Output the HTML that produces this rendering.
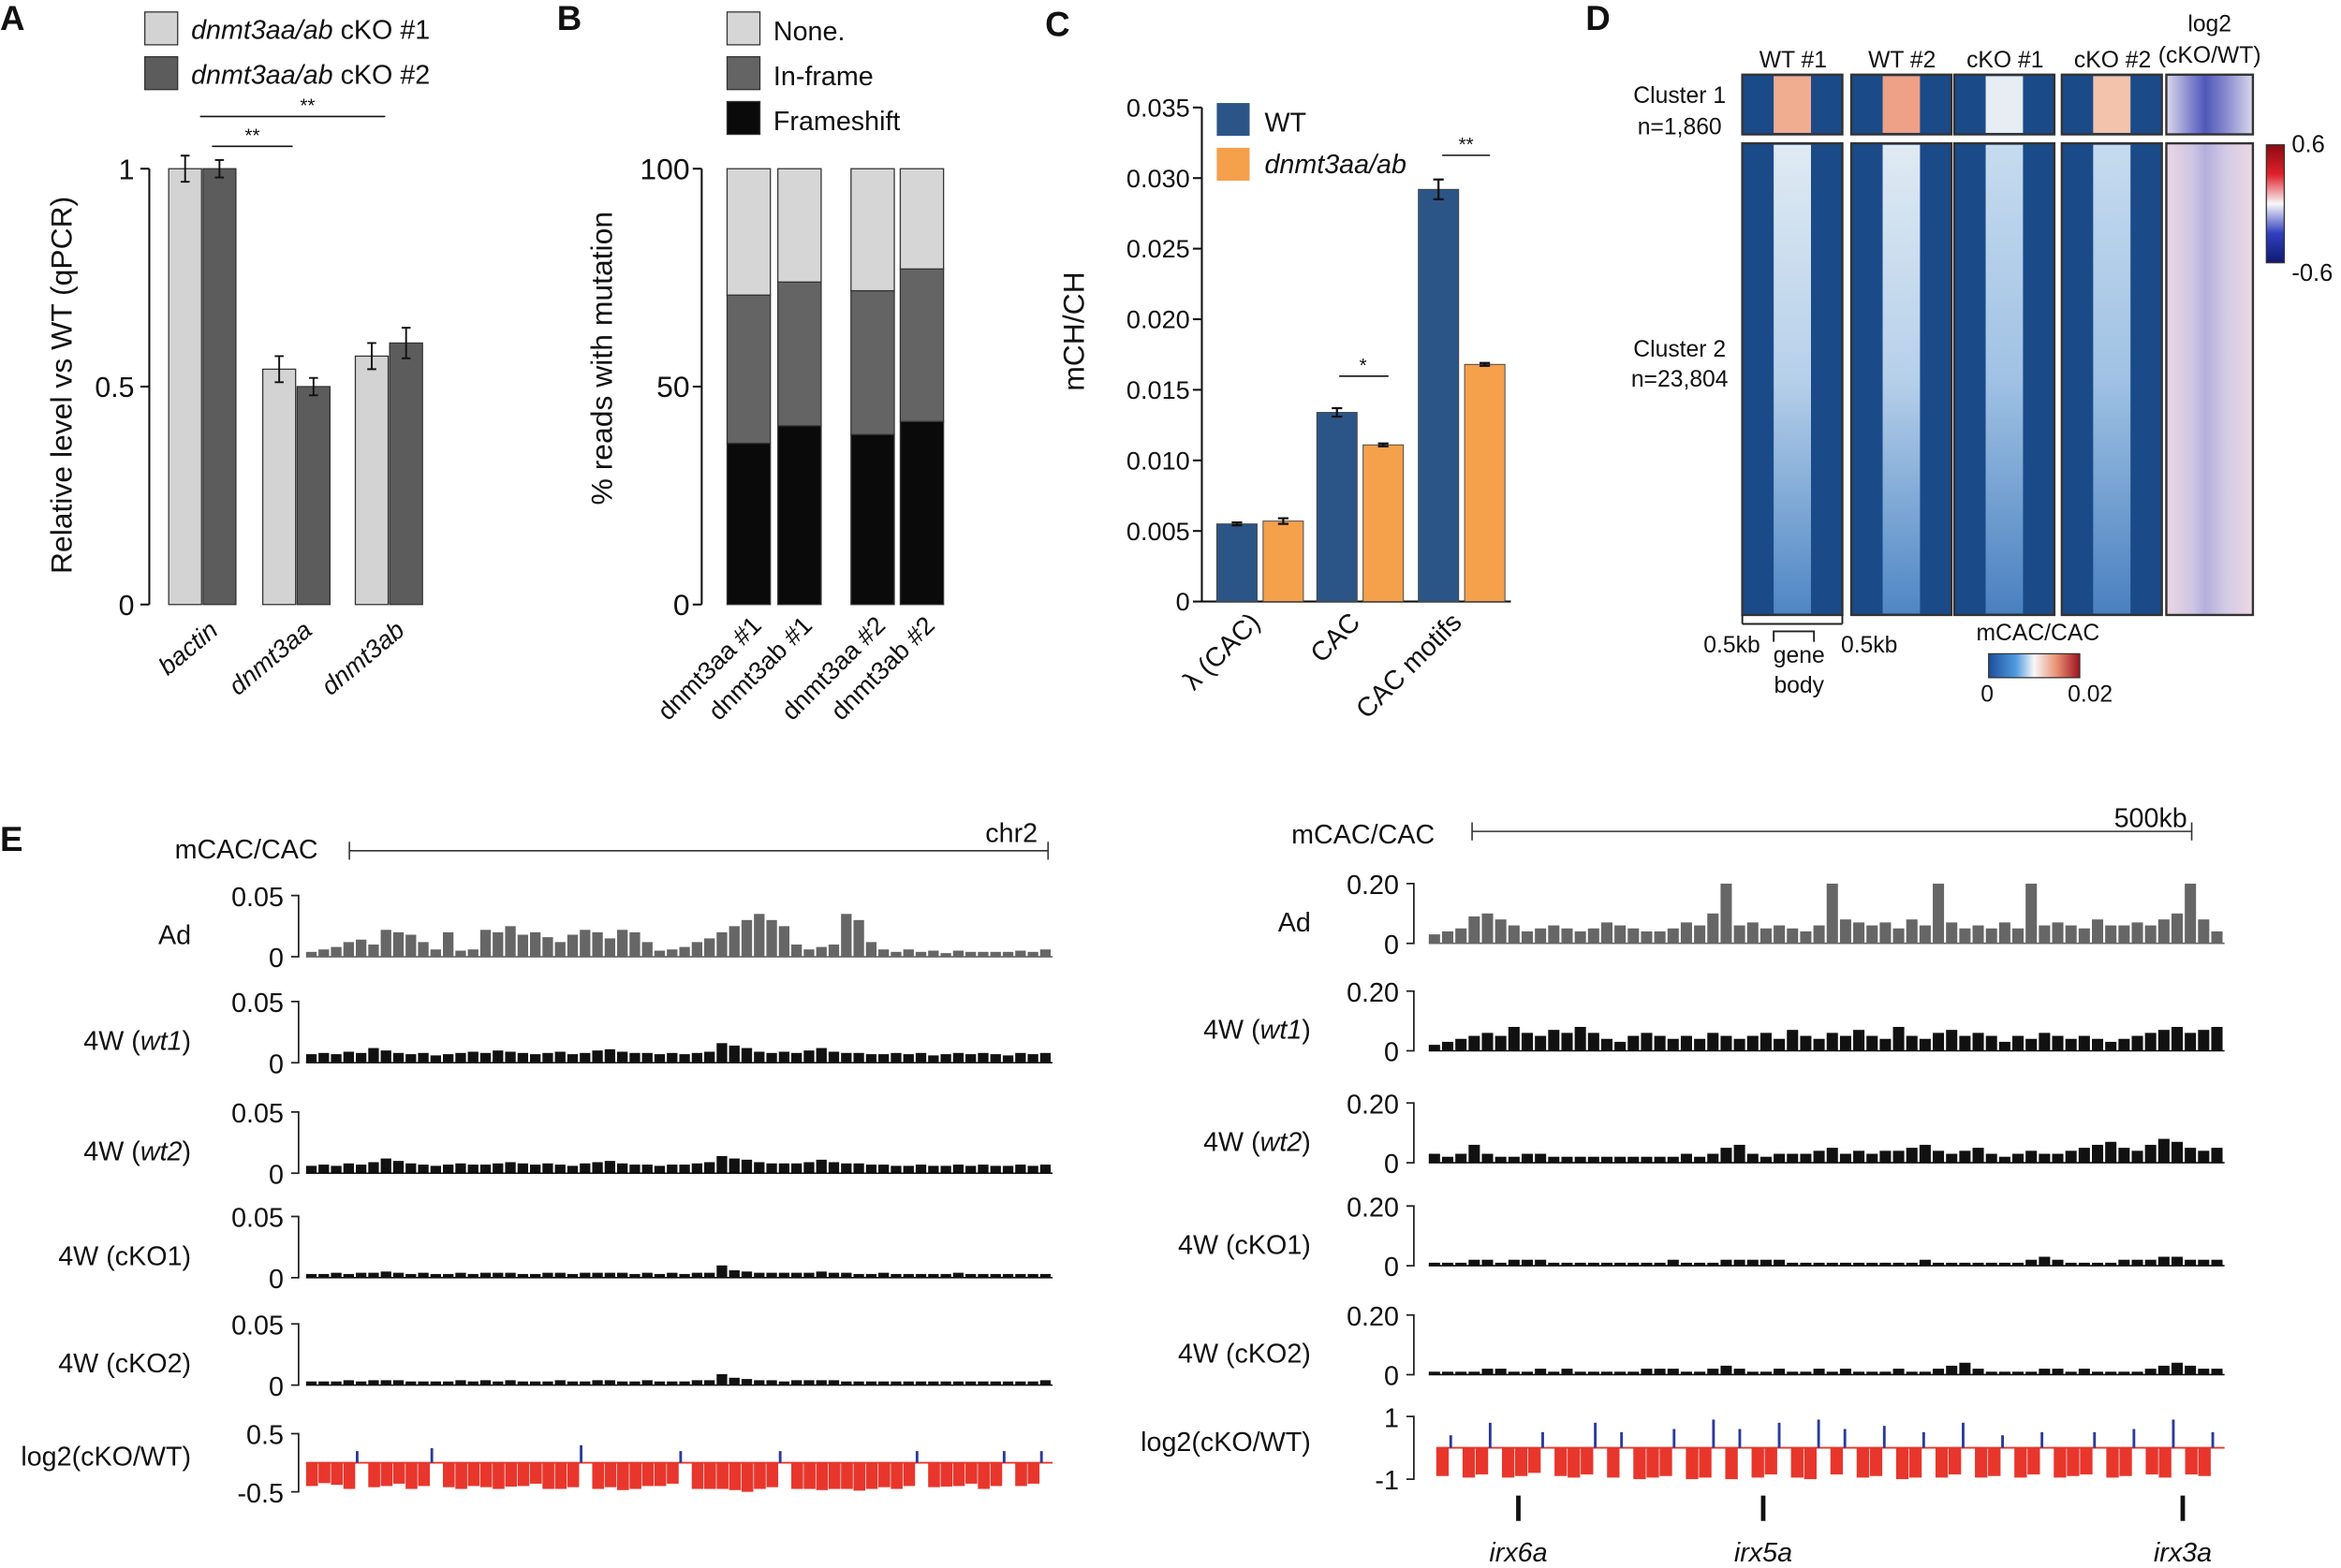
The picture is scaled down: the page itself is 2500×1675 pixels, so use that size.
<!DOCTYPE html>
<html><head><meta charset="utf-8"><style>
html,body{margin:0;padding:0;background:#fff}
svg{display:block;font-family:"Liberation Sans",Arial,sans-serif}
</style></head><body>
<svg id="fig" width="2500" height="1675" viewBox="0 0 1568 1050.5" xmlns="http://www.w3.org/2000/svg">
<defs>
<linearGradient id="c2strip" x1="0" y1="0" x2="0" y2="1"><stop offset="0" stop-color="#dfeaf3"/><stop offset="0.5" stop-color="#b6d0ea"/><stop offset="1" stop-color="#4f86c4"/></linearGradient>
<linearGradient id="c2stripk" x1="0" y1="0" x2="0" y2="1"><stop offset="0" stop-color="#c6dbef"/><stop offset="0.5" stop-color="#a0c2e4"/><stop offset="1" stop-color="#4a80c0"/></linearGradient>
<linearGradient id="cbarH" x1="0" y1="0" x2="1" y2="0"><stop offset="0" stop-color="#1d4f9a"/><stop offset="0.3" stop-color="#4f9be0"/><stop offset="0.5" stop-color="#f8f8f8"/><stop offset="0.75" stop-color="#e89070"/><stop offset="1" stop-color="#a01020"/></linearGradient>
<linearGradient id="cbarV" x1="0" y1="0" x2="0" y2="1"><stop offset="0" stop-color="#8a0a10"/><stop offset="0.25" stop-color="#e0202a"/><stop offset="0.5" stop-color="#f8f8f8"/><stop offset="0.75" stop-color="#3040c0"/><stop offset="1" stop-color="#101a70"/></linearGradient>
<linearGradient id="l2col" x1="0" y1="0" x2="1" y2="0"><stop offset="0" stop-color="#ead6e2"/><stop offset="0.3" stop-color="#cfc6e4"/><stop offset="0.45" stop-color="#b4b0dc"/><stop offset="0.7" stop-color="#d4cbe6"/><stop offset="1" stop-color="#ecd8e2"/></linearGradient>
<linearGradient id="l2col1" x1="0" y1="0" x2="1" y2="0"><stop offset="0" stop-color="#dcd8ec"/><stop offset="0.3" stop-color="#7c80cc"/><stop offset="0.45" stop-color="#5058b8"/><stop offset="0.7" stop-color="#8a8cd0"/><stop offset="1" stop-color="#dad8ec"/></linearGradient>
</defs>
<g id="root"></g>
</svg>
<script>
// ---------- Panel A data ----------
const aCats = ['bactin','dnmt3aa','dnmt3ab'];
const aKO1 = [1.0, 0.54, 0.57];
const aKO2 = [1.0, 0.50, 0.60];
const aErr1 = [0.03, 0.03, 0.03];
const aErr2 = [0.02, 0.02, 0.035];
const aTicks = [0, 0.5, 1];
const aTickLabels = ['0','0.5','1'];
// ---------- Panel B data ----------
const bCats = ['dnmt3aa #1','dnmt3ab #1','dnmt3aa #2','dnmt3ab #2'];
const bFrameshift = [37, 41, 39, 42];
const bInframe = [34, 33, 33, 35];
const bNone = [29, 26, 28, 23];
const bTicks = [0, 50, 100];
// ---------- Panel C data ----------
const cCats = ['λ (CAC)','CAC','CAC motifs'];
const cWT = [0.0055, 0.0134, 0.0292];
const cMut = [0.0057, 0.0111, 0.0168];
const cErrWT = [0.0001, 0.0003, 0.0007];
const cErrMut = [0.0002, 0.0001, 0.0001];
const cTicks = [0, 0.005, 0.010, 0.015, 0.020, 0.025, 0.030, 0.035];
const cTickLabels = ['0','0.005','0.010','0.015','0.020','0.025','0.030','0.035'];
// ---------- Panel E data (binned signal) ----------
const eLeftAd = [0.004,0.006,0.008,0.012,0.014,0.010,0.022,0.02,0.018,0.012,0.006,0.02,0.005,0.006,0.022,0.02,0.025,0.018,0.02,0.016,0.012,0.018,0.022,0.02,0.015,0.022,0.02,0.012,0.005,0.006,0.008,0.012,0.015,0.02,0.025,0.03,0.035,0.03,0.025,0.01,0.006,0.008,0.01,0.035,0.03,0.012,0.006,0.004,0.006,0.004,0.005,0.003,0.005,0.004,0.004,0.004,0.004,0.005,0.004,0.006];
const eLeftWt1 = [0.007,0.008,0.007,0.009,0.008,0.012,0.01,0.008,0.007,0.008,0.006,0.007,0.008,0.009,0.008,0.01,0.009,0.008,0.007,0.008,0.009,0.007,0.008,0.01,0.011,0.009,0.008,0.008,0.007,0.008,0.007,0.008,0.009,0.016,0.014,0.012,0.009,0.008,0.009,0.008,0.01,0.012,0.009,0.008,0.008,0.007,0.007,0.008,0.007,0.008,0.006,0.007,0.008,0.007,0.008,0.007,0.006,0.008,0.007,0.008];
const eLeftWt2 = [0.006,0.007,0.006,0.008,0.007,0.009,0.012,0.01,0.008,0.007,0.006,0.007,0.008,0.007,0.007,0.008,0.009,0.008,0.007,0.008,0.007,0.006,0.008,0.009,0.01,0.008,0.007,0.007,0.006,0.007,0.007,0.008,0.009,0.014,0.012,0.011,0.009,0.008,0.008,0.008,0.009,0.011,0.009,0.008,0.008,0.007,0.007,0.006,0.006,0.007,0.006,0.006,0.007,0.006,0.007,0.006,0.006,0.007,0.006,0.007];
const eLeftKO1 = [0.003,0.003,0.004,0.003,0.004,0.004,0.005,0.004,0.003,0.004,0.003,0.003,0.004,0.003,0.004,0.004,0.004,0.003,0.003,0.004,0.004,0.003,0.004,0.004,0.004,0.004,0.003,0.004,0.003,0.004,0.003,0.004,0.004,0.01,0.006,0.005,0.004,0.004,0.004,0.004,0.004,0.005,0.004,0.004,0.003,0.003,0.004,0.003,0.003,0.003,0.003,0.003,0.004,0.003,0.003,0.003,0.003,0.003,0.003,0.003];
const eLeftKO2 = [0.003,0.003,0.003,0.004,0.003,0.004,0.004,0.004,0.003,0.003,0.003,0.003,0.004,0.003,0.004,0.003,0.004,0.003,0.003,0.003,0.004,0.003,0.003,0.004,0.004,0.003,0.003,0.004,0.003,0.003,0.003,0.004,0.004,0.009,0.006,0.005,0.004,0.004,0.003,0.004,0.004,0.004,0.004,0.003,0.003,0.003,0.003,0.003,0.003,0.003,0.003,0.003,0.003,0.003,0.003,0.003,0.003,0.003,0.003,0.004];
const eLeftLog2 = [-0.4,-0.35,-0.38,-0.45,0.2,-0.42,-0.4,-0.36,-0.45,-0.4,0.25,-0.42,-0.45,-0.4,-0.42,-0.45,-0.41,-0.4,-0.36,-0.45,-0.45,-0.42,0.3,-0.45,-0.42,-0.47,-0.45,-0.4,-0.4,-0.36,0.2,-0.45,-0.45,-0.45,-0.47,-0.5,-0.45,-0.42,0.2,-0.45,-0.45,-0.47,-0.45,-0.45,-0.48,-0.45,-0.42,-0.45,-0.4,0.2,-0.42,-0.41,-0.4,-0.36,-0.45,-0.4,0.2,-0.4,-0.36,0.2];
const eRightAd = [0.03,0.04,0.05,0.09,0.1,0.08,0.06,0.04,0.05,0.06,0.05,0.04,0.05,0.07,0.06,0.05,0.04,0.04,0.05,0.07,0.06,0.1,0.2,0.06,0.07,0.05,0.06,0.05,0.04,0.06,0.2,0.08,0.07,0.06,0.07,0.05,0.08,0.06,0.2,0.07,0.05,0.06,0.05,0.07,0.05,0.2,0.06,0.07,0.06,0.05,0.08,0.06,0.06,0.07,0.06,0.08,0.1,0.2,0.08,0.04];
const eRightWt1 = [0.02,0.03,0.04,0.05,0.06,0.05,0.08,0.06,0.05,0.07,0.06,0.08,0.06,0.04,0.03,0.05,0.06,0.05,0.04,0.05,0.04,0.06,0.05,0.04,0.05,0.06,0.04,0.07,0.05,0.04,0.06,0.05,0.07,0.05,0.04,0.08,0.05,0.04,0.06,0.07,0.05,0.06,0.05,0.03,0.05,0.04,0.06,0.05,0.04,0.05,0.04,0.03,0.04,0.05,0.06,0.07,0.08,0.06,0.07,0.08];
const eRightWt2 = [0.03,0.02,0.03,0.06,0.03,0.02,0.02,0.03,0.03,0.02,0.02,0.02,0.02,0.02,0.02,0.02,0.02,0.02,0.02,0.03,0.02,0.03,0.05,0.06,0.03,0.02,0.03,0.03,0.03,0.04,0.05,0.03,0.04,0.03,0.04,0.04,0.05,0.06,0.04,0.03,0.04,0.05,0.03,0.02,0.03,0.04,0.03,0.03,0.04,0.05,0.06,0.07,0.05,0.04,0.06,0.08,0.07,0.05,0.04,0.05];
const eRightKO1 = [0.01,0.01,0.01,0.02,0.02,0.01,0.02,0.02,0.02,0.01,0.01,0.01,0.01,0.01,0.01,0.01,0.01,0.01,0.02,0.01,0.01,0.01,0.02,0.02,0.02,0.02,0.02,0.01,0.01,0.01,0.01,0.01,0.01,0.01,0.01,0.01,0.01,0.02,0.01,0.01,0.01,0.01,0.01,0.01,0.01,0.02,0.03,0.02,0.01,0.01,0.01,0.01,0.02,0.02,0.02,0.03,0.03,0.02,0.02,0.02];
const eRightKO2 = [0.01,0.01,0.01,0.01,0.02,0.02,0.01,0.01,0.02,0.01,0.02,0.01,0.01,0.01,0.01,0.01,0.02,0.02,0.02,0.01,0.01,0.02,0.03,0.02,0.01,0.01,0.02,0.01,0.01,0.02,0.01,0.02,0.01,0.01,0.01,0.02,0.01,0.01,0.02,0.03,0.04,0.02,0.01,0.01,0.01,0.01,0.02,0.02,0.01,0.02,0.01,0.01,0.01,0.01,0.02,0.03,0.04,0.03,0.02,0.02];
const eRightLog2 = [-0.9,0.4,-0.95,-0.85,0.8,-0.95,-0.9,-0.8,0.5,-0.9,-0.95,-0.85,0.8,-0.95,0.5,-1.0,-0.95,-0.9,0.6,-1.0,-0.95,0.9,-1.0,0.6,-0.95,-0.85,0.8,-0.95,-1.0,0.9,-0.85,0.6,-0.95,-0.9,0.7,-1.0,-0.95,0.5,-0.95,-0.85,0.8,-0.95,-0.9,0.4,-0.95,-0.85,0.5,-0.95,-0.9,-0.85,0.5,-0.95,-0.9,0.6,-0.85,-0.95,0.9,-0.85,-0.9,0.5];

const NS='http://www.w3.org/2000/svg';
const root=document.getElementById('root');
function mk(tag,attrs,parent){const e=document.createElementNS(NS,tag);for(const k in attrs)e.setAttribute(k,attrs[k]);(parent||root).appendChild(e);return e;}
function txt(s,x,y,size,anchor,extra,parent){const t=mk('text',Object.assign({x:x,y:y,'font-size':size,'text-anchor':anchor||'start',fill:'#111'},extra||{}),parent);t.textContent=s;return t;}

['A','B','C','D','E'].forEach((L,i)=>{const p=[[0,20],[373,20],[700,24],[1062,20],[0,570]][i];const t=txt(L,p[0],p[1],23,'start',{'font-weight':'bold'});

});

// ================= Panel A =================
const gA=mk('g',{});


const aY=v=>405-292*v;
const aX0=[113,176,238];
mk('line',{x1:100,y1:aY(1),x2:100,y2:aY(0),stroke:'#111','stroke-width':1.3},gA);
aTicks.forEach((v,i)=>{mk('line',{x1:94,x2:100,y1:aY(v),y2:aY(v),stroke:'#111','stroke-width':1.3},gA);
const t=txt(aTickLabels[i],90,aY(v)+7,19,'end',{},gA);

});
aCats.forEach((c,i)=>{
 [[aKO1,aErr1,'#d3d3d3',0],[aKO2,aErr2,'#5c5c5c',23]].forEach(s=>{
  const x=aX0[i]+s[3],v=s[0][i],e=s[1][i];
  const r=mk('rect',{x:x,y:aY(v),width:22,height:aY(0)-aY(v),fill:s[2],stroke:'#333','stroke-width':0.8},gA);
  
  
  mk('path',{d:`M${x+11} ${aY(v+e)}V${aY(v-e)}M${x+8} ${aY(v+e)}h6M${x+8} ${aY(v-e)}h6`,stroke:'#111','stroke-width':1.2,fill:'none'},gA);
 });
 const t=txt(c,aX0[i]+34,424,17,'end',{'font-style':'italic',transform:`rotate(-40 ${aX0[i]+34} 424)`},gA);
 
 
});
const aYl=txt('Relative level vs WT (qPCR)',48,258,20,'middle',{transform:'rotate(-90 48 258)'},gA);


mk('line',{x1:142,x2:196,y1:98,y2:98,stroke:'#111','stroke-width':1},gA);txt('**',169,95,13,'middle',{},gA);
mk('line',{x1:134,x2:258,y1:78,y2:78,stroke:'#111','stroke-width':1},gA);txt('**',206,75,13,'middle',{},gA);
[['#d3d3d3',8,'cKO #1'],['#5c5c5c',38,'cKO #2']].forEach(l=>{mk('rect',{x:97,y:l[1],width:22,height:22,fill:l[0],stroke:'#333','stroke-width':0.8},gA);
 const t=mk('text',{x:128,y:l[1]+18,'font-size':18,fill:'#111'},gA);t.innerHTML='<tspan font-style="italic">dnmt3aa/ab</tspan> '+l[2];
 
 });

// ================= Panel B =================
const gB=mk('g',{});


const bY=v=>405-2.92*v;
const bX=[487,521,570,603];
mk('line',{x1:470,y1:bY(100),x2:470,y2:bY(0),stroke:'#111','stroke-width':1.3},gB);
bTicks.forEach(v=>{mk('line',{x1:464,x2:470,y1:bY(v),y2:bY(v),stroke:'#111','stroke-width':1.3},gB);
const t=txt(String(v),462,bY(v)+7,20,'end',{},gB);

});
bCats.forEach((c,i)=>{let base=0;[[bFrameshift,'#0a0a0a'],[bInframe,'#646464'],[bNone,'#d6d6d6']].forEach(s=>{const v=s[0][i];
 const r=mk('rect',{x:bX[i],y:bY(base+v),width:29,height:bY(base)-bY(base+v),fill:s[1],stroke:'#333','stroke-width':0.8},gB);
 
 base+=v;});
 const t=txt(c,bX[i]+24,420,17,'end',{transform:`rotate(-45 ${bX[i]+24} 420)`},gB);
 
 });
const bYl=txt('% reads with mutation',410,240,20,'middle',{transform:'rotate(-90 410 240)'},gB);


[['#d6d6d6',8,'None.'],['#646464',38,'In-frame'],['#0a0a0a',68,'Frameshift']].forEach(l=>{mk('rect',{x:487,y:l[1],width:22,height:22,fill:l[0],stroke:'#333','stroke-width':0.8},gB);
 const t=txt(l[2],518,l[1]+19,18,'start',{},gB);
 
 });

// ================= Panel C =================
const gC=mk('g',{});


const cY=v=>403-v/0.035*331;
const cX=[815,882,950];
mk('line',{x1:805,y1:cY(0.035),x2:805,y2:cY(0),stroke:'#111','stroke-width':1.3},gC);
mk('line',{x1:805,y1:cY(0),x2:1012,y2:cY(0),stroke:'#111','stroke-width':1.3},gC);
cTicks.forEach((v,i)=>{mk('line',{x1:799,x2:805,y1:cY(v),y2:cY(v),stroke:'#111','stroke-width':1.3},gC);
const t=txt(cTickLabels[i],797,cY(v)+6,17,'end',{},gC);

});
cCats.forEach((c,i)=>{[[cWT,cErrWT,'#2c5587',0],[cMut,cErrMut,'#f5a04b',31]].forEach(s=>{const x=cX[i]+s[3],v=s[0][i],e=s[1][i];
 const r=mk('rect',{x:x,y:cY(v),width:27,height:cY(0)-cY(v),fill:s[2],stroke:'#444','stroke-width':0.6},gC);
 
 
 mk('path',{d:`M${x+13.5} ${cY(v+e)}V${cY(v-e)}M${x+10} ${cY(v+e)}h7M${x+10} ${cY(v-e)}h7`,stroke:'#111','stroke-width':1.4,fill:'none'},gC);});
 const t=txt(c,cX[i]+30,418,18,'end',{transform:`rotate(-45 ${cX[i]+30} 418)`},gC);
 
 });
const cYl=txt('mCH/CH',726,222,20,'middle',{transform:'rotate(-90 726 222)'},gC);


mk('line',{x1:897,x2:930,y1:252,y2:252,stroke:'#111','stroke-width':1},gC);txt('*',913,249,13,'middle',{},gC);
mk('line',{x1:966,x2:998,y1:104,y2:104,stroke:'#111','stroke-width':1},gC);txt('**',982,101,13,'middle',{},gC);
mk('rect',{x:815,y:69,width:22,height:22,fill:'#2c5587'},gC);
const cl1=txt('WT',847,88,18,'start',{},gC);


mk('rect',{x:815,y:99,width:22,height:22,fill:'#f5a04b'},gC);
const cl2=txt('dnmt3aa/ab',847,116,18,'start',{'font-style':'italic'},gC);



// ================= Panel D =================
const gD=mk('g',{});


const dCols=[[1167,'WT #1','#f0ad90'],[1240,'WT #2','#eea186'],[1309,'cKO #1','#e6eef4'],[1381,'cKO #2','#f3c4ab']];
dCols.forEach(c=>{const x=c[0];
 const h=txt(c[1],x+34,45,15.5,'middle',{},gD);
 
 
 [[50,40,c[2]],[96,316,(c[1].startsWith('cKO')?'url(#c2stripk)':'url(#c2strip)')]].forEach(b=>{
  mk('rect',{x:x,y:b[0],width:67,height:b[1],fill:'#1b4a88',stroke:'#333','stroke-width':1.5},gD);
  const s=mk('rect',{x:x+21,y:b[0]+1,width:25,height:b[1]-2,fill:b[2]},gD);
  
  });});
mk('rect',{x:1451,y:50,width:58,height:40,fill:'url(#l2col1)',stroke:'#333','stroke-width':1.5},gD);
mk('rect',{x:1451,y:96,width:58,height:316,fill:'url(#l2col)',stroke:'#333','stroke-width':1.5},gD);
txt('log2',1480,21,15.5,'middle',{},gD);txt('(cKO/WT)',1480,42,15.5,'middle',{},gD);
txt('Cluster 1',1125,69,15.5,'middle',{},gD);txt('n=1,860',1125,90,15.5,'middle',{},gD);
txt('Cluster 2',1125,239,15.5,'middle',{},gD);txt('n=23,804',1125,259,15.5,'middle',{},gD);
const cbv=mk('rect',{x:1518,y:97,width:12,height:79,fill:'url(#cbarV)',stroke:'#333','stroke-width':0.8},gD);


txt('0.6',1535,102,16,'start',{},gD);txt('-0.6',1535,188,16,'start',{},gD);
mk('path',{d:'M1167 418V412M1167 418H1234M1234 418V412M1188 430V423H1215V430',stroke:'#222','stroke-width':1.2,fill:'none'},gD);
txt('0.5kb',1160,437,15.5,'middle',{},gD);txt('0.5kb',1252,437,15.5,'middle',{},gD);
txt('gene',1205,444,15.5,'middle',{},gD);txt('body',1205,464,15.5,'middle',{},gD);
txt('mCAC/CAC',1365,429,15.5,'middle',{},gD);
const cbh=mk('rect',{x:1332,y:438,width:61,height:16,fill:'url(#cbarH)',stroke:'#333','stroke-width':0.8},gD);


txt('0',1331,470,15.5,'middle',{},gD);txt('0.02',1400,470,15.5,'middle',{},gD);

// ================= Panel E =================
function track(g,data,opts){
 const n=data.length,step=(opts.x1-opts.x0)/n;
 const yv=v=>opts.base-(v/opts.max)*opts.h;
 mk('path',{d:`M${opts.ax-5} ${opts.base-opts.h}H${opts.ax}V${opts.base}H${opts.ax-5}`,stroke:'#222','stroke-width':1.1,fill:'none'},g);
 txt(opts.maxLabel,opts.ax-10,opts.base-opts.h+7,18,'end',{},g);
 txt('0',opts.ax-10,opts.base+7,18,'end',{},g);
 mk('line',{x1:opts.x0,x2:opts.x1,y1:opts.base,y2:opts.base,stroke:opts.color,'stroke-width':1},g);
 data.forEach((v,i)=>{const b=mk('rect',{x:opts.x0+i*step,y:yv(v),width:step*0.85,height:opts.base-yv(v),fill:opts.color},g);
  
  });
 const l=mk('text',{x:opts.lx,y:opts.base-opts.h/2+12,'font-size':18,'text-anchor':'end',fill:'#111'},g);l.innerHTML=opts.label;
 
 
}
function log2track(g,data,opts){
 const n=data.length,step=(opts.x1-opts.x0)/n;
 const yv=v=>opts.zero-v*opts.k;
 mk('path',{d:`M${opts.ax-5} ${yv(opts.tmax)}H${opts.ax}V${yv(-opts.tmax)}H${opts.ax-5}`,stroke:'#222','stroke-width':1.1,fill:'none'},g);
 txt(opts.l1,opts.ax-10,yv(opts.tmax)+7,18,'end',{},g);txt(opts.l2,opts.ax-10,yv(-opts.tmax)+7,18,'end',{},g);
 mk('line',{x1:opts.x0,x2:opts.x1,y1:opts.zero,y2:opts.zero,stroke:'#e8362c','stroke-width':1.2},g);
 data.forEach((v,i)=>{const y=Math.min(yv(v),opts.zero),h=Math.abs(yv(v)-opts.zero);
  const b=mk('rect',{x:opts.x0+i*step,y:y,width:v<0?step*0.95:1.8,height:h,fill:v<0?'#e8362c':'#2a3a9c'},g);
  
  });
 const l=txt('log2(cKO/WT)',opts.lx,opts.zero+2,18,'end',{},g);
 
 
}
const gEL=mk('g',{});


txt('mCAC/CAC',165,575,18,'middle',{},gEL);
mk('path',{d:'M234 564V576M234 570H702M702 564V576',stroke:'#333','stroke-width':1,fill:'none'},gEL);
txt('chr2',695,564,18,'end',{},gEL);
const L={x0:205,x1:705,ax:200,h:41,max:0.05,maxLabel:'0.05',lx:128};
track(gEL,eLeftAd,Object.assign({},L,{base:641,color:'#666',label:'Ad'}));
track(gEL,eLeftWt1,Object.assign({},L,{base:712,color:'#111',label:'4W (<tspan font-style="italic">wt1</tspan>)'}));
track(gEL,eLeftWt2,Object.assign({},L,{base:786,color:'#111',label:'4W (<tspan font-style="italic">wt2</tspan>)'}));
track(gEL,eLeftKO1,Object.assign({},L,{base:856,color:'#111',label:'4W (cKO1)'}));
track(gEL,eLeftKO2,Object.assign({},L,{base:928,color:'#111',label:'4W (cKO2)'}));
log2track(gEL,eLeftLog2,{x0:205,x1:705,ax:200,zero:980,k:39,tmax:0.5,l1:'0.5',l2:'-0.5',lx:128});

const gER=mk('g',{});


txt('mCAC/CAC',913,565,18,'middle',{},gER);
mk('path',{d:'M986 551V563M986 557H1468M1468 551V563',stroke:'#333','stroke-width':1,fill:'none'},gER);
txt('500kb',1465,554,18,'end',{},gER);
const R={x0:957,x1:1490,ax:947,h:40,max:0.2,maxLabel:'0.20',lx:878};
track(gER,eRightAd,Object.assign({},R,{base:632,color:'#666',label:'Ad'}));
track(gER,eRightWt1,Object.assign({},R,{base:704,color:'#111',label:'4W (<tspan font-style="italic">wt1</tspan>)'}));
track(gER,eRightWt2,Object.assign({},R,{base:779,color:'#111',label:'4W (<tspan font-style="italic">wt2</tspan>)'}));
track(gER,eRightKO1,Object.assign({},R,{base:848,color:'#111',label:'4W (cKO1)'}));
track(gER,eRightKO2,Object.assign({},R,{base:921,color:'#111',label:'4W (cKO2)'}));
log2track(gER,eRightLog2,{x0:962,x1:1490,ax:947,zero:970,k:21,tmax:1,l1:'1',l2:'-1',lx:878});
[[1017,'irx6a'],[1181,'irx5a'],[1462,'irx3a']].forEach(g=>{
 mk('line',{x1:g[0],x2:g[0],y1:1002,y2:1019,stroke:'#111','stroke-width':3},gER);
 const t=txt(g[1],g[0],1046,18,'middle',{'font-style':'italic'},gER);
 
 });
</script>
</body></html>
